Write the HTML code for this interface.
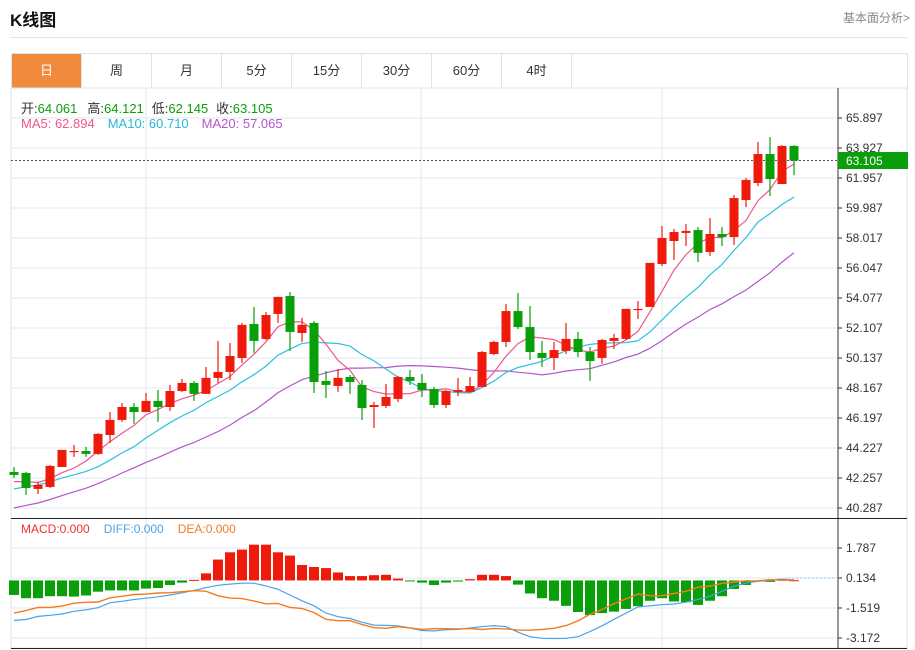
<!DOCTYPE html>
<html><head><meta charset="utf-8">
<style>
body{margin:0;background:#fff;font-family:"Liberation Sans","Noto Sans CJK SC",sans-serif;}
#wrap{position:relative;width:915px;height:650px;overflow:hidden;}
.t{position:absolute;white-space:nowrap;}
.tab{position:absolute;top:54px;height:34px;width:69px;line-height:34px;text-align:center;font-size:13px;color:#333;border-right:1px solid #e3e3e3;}
</style></head><body>
<div id="wrap">
<div class="t" style="left:10px;top:6px;font-size:17px;font-weight:bold;color:#111">K线图</div>
<div class="t" style="left:843px;top:9px;font-size:12px;color:#888">基本面分析&gt;</div>
<div style="position:absolute;left:10px;top:37px;width:897px;height:1px;background:#e5e5e5"></div>
<div style="position:absolute;left:11px;top:53px;width:895px;height:35px;border:1px solid #e3e3e3;border-bottom:none"></div>
<div class="tab" style="left:12px;background:#f08a3c;color:#fff">日</div>
<div class="tab" style="left:82px">周</div>
<div class="tab" style="left:152px">月</div>
<div class="tab" style="left:222px">5分</div>
<div class="tab" style="left:292px">15分</div>
<div class="tab" style="left:362px">30分</div>
<div class="tab" style="left:432px">60分</div>
<div class="tab" style="left:502px">4时</div>
<svg id="chart" width="915" height="650" style="position:absolute;left:0;top:0"></svg>
</div>
<script>
const opens=[42.65,42.59,41.54,41.67,42.98,43.97,44.03,43.84,45.08,46.07,46.92,46.59,47.32,46.92,47.97,48.50,47.78,48.83,49.22,50.14,52.37,51.39,53.03,54.21,51.78,52.44,48.63,48.30,48.89,48.37,46.92,46.99,47.45,48.89,48.50,48.10,47.05,47.91,47.91,48.24,50.40,51.19,53.22,52.17,50.47,50.14,50.60,51.39,50.53,50.14,51.26,51.39,53.29,53.49,56.31,57.82,58.35,58.54,57.10,58.28,58.08,60.51,61.63,63.53,61.56,64.061];
const closes=[42.46,41.60,41.80,43.05,44.10,44.03,43.84,45.15,46.07,46.92,46.59,47.32,46.92,47.97,48.50,47.78,48.83,49.22,50.27,52.31,51.26,52.96,54.15,51.85,52.31,48.56,48.37,48.83,48.56,46.85,47.05,47.58,48.89,48.63,48.04,47.05,47.97,48.04,48.30,50.53,51.19,53.22,52.17,50.53,50.14,50.66,51.39,50.53,49.94,51.32,51.45,53.36,53.36,56.38,58.02,58.41,58.48,57.04,58.28,58.08,60.64,61.83,63.53,61.89,64.06,63.105];
const highs=[42.98,42.65,42.00,43.11,44.10,44.43,44.30,45.21,46.59,47.18,47.18,47.84,48.04,48.37,48.76,48.63,49.55,51.26,51.12,52.44,53.49,53.16,54.15,54.47,52.77,52.57,49.29,49.42,49.02,48.69,47.25,48.43,48.96,49.35,49.09,48.24,48.04,48.83,48.89,50.60,51.26,53.68,54.41,53.55,51.26,51.19,52.44,51.85,50.86,51.39,51.72,53.36,53.88,56.38,58.81,58.61,58.94,58.74,59.33,58.74,60.84,61.96,64.32,64.65,64.12,64.121];
const lows=[42.26,41.14,41.21,41.60,42.98,43.64,43.64,43.77,44.56,45.94,45.81,46.59,45.94,46.66,47.91,47.32,47.78,48.50,48.69,49.81,50.47,51.32,52.44,50.60,51.19,47.84,47.51,47.91,47.78,46.07,45.54,46.85,47.25,48.37,47.58,46.85,46.85,47.64,47.91,48.24,50.33,50.86,52.04,50.01,49.55,49.35,50.40,50.20,48.63,49.75,50.73,51.32,52.70,53.49,56.18,56.57,57.49,56.44,56.84,57.49,57.56,60.05,61.43,60.77,61.56,62.145];
const priorCloses=[38.3,38.6,38.5,38.9,39.0,39.2,39.1,39.4,39.6,39.8,40.2,40.6,41.0,41.5,42.0,41.6,42.1,41.8,42.14];
const priceTicks=[65.897,63.927,61.957,59.987,58.017,56.047,54.077,52.107,50.137,48.167,46.197,44.227,42.257,40.287];
const macdHist=[-0.80,-0.98,-0.98,-0.87,-0.87,-0.89,-0.83,-0.62,-0.55,-0.55,-0.55,-0.45,-0.42,-0.25,-0.12,0.03,0.39,1.15,1.55,1.70,1.97,1.97,1.55,1.37,0.85,0.74,0.68,0.44,0.24,0.24,0.29,0.31,0.10,-0.01,-0.12,-0.25,-0.12,-0.06,0.07,0.31,0.31,0.24,-0.23,-0.72,-0.98,-1.12,-1.40,-1.74,-1.91,-1.80,-1.72,-1.57,-1.42,-1.12,-0.98,-1.16,-1.20,-1.35,-1.12,-0.87,-0.47,-0.25,-0.06,-0.08,0.09,0.01];
const diffVals=[-2.20,-2.15,-1.98,-1.92,-1.85,-1.70,-1.62,-1.50,-1.23,-1.15,-1.05,-0.98,-0.90,-0.80,-0.68,-0.55,-0.40,-0.27,-0.20,-0.15,-0.15,-0.30,-0.49,-0.80,-1.12,-1.40,-1.80,-2.00,-2.10,-2.30,-2.46,-2.48,-2.50,-2.62,-2.76,-2.78,-2.72,-2.70,-2.62,-2.55,-2.49,-2.55,-2.85,-3.10,-3.19,-3.20,-3.19,-3.10,-2.82,-2.50,-2.14,-1.80,-1.46,-1.40,-1.33,-1.30,-1.20,-1.05,-0.87,-0.60,-0.32,-0.15,-0.05,0.00,0.05,0.03];
const macdTicks=[1.787,0.134,-1.519,-3.172];

const NS='http://www.w3.org/2000/svg';
const svg=document.getElementById('chart');
function mk(tag,attrs,parent){const e=document.createElementNS(NS,tag);for(const k in attrs)e.setAttribute(k,attrs[k]);(parent||svg).appendChild(e);return e;}
const xOf=i=>14+12*i;
const yP=p=>118+(priceTicks[0]-p)*(390/(priceTicks[0]-priceTicks[priceTicks.length-1]));
const yM=v=>548+(macdTicks[0]-v)*(90/(macdTicks[0]-macdTicks[3]));
const RED='#f01a0a',GREEN='#08a008';

mk('rect',{x:11,y:88,width:896,height:560,fill:'none',stroke:'#e3e3e3'});
priceTicks.forEach(p=>{const g=mk('line',{x1:11,x2:838,y1:yP(p),y2:yP(p),stroke:'#e1eaf0'});
});
macdTicks.forEach(v=>{mk('line',{x1:11,x2:838,y1:yM(v),y2:yM(v),stroke:'#e1eaf0'});});
[146,421,662].forEach(x=>{mk('line',{x1:x,x2:x,y1:88,y2:518,stroke:'#e1eaf0'});mk('line',{x1:x,x2:x,y1:519,y2:648,stroke:'#e1eaf0'});});
mk('line',{x1:838,x2:838,y1:88,y2:648,stroke:'#333'});
mk('line',{x1:11,x2:907,y1:518.5,y2:518.5,stroke:'#222'});
mk('line',{x1:11,x2:907,y1:648.5,y2:648.5,stroke:'#222'});
priceTicks.forEach(p=>{mk('line',{x1:838,x2:842,y1:yP(p),y2:yP(p),stroke:'#333'});
const t=mk('text',{x:846,y:yP(p)+4,'font-size':12,fill:'#333'});t.textContent=p.toFixed(3);
});
macdTicks.forEach(v=>{mk('line',{x1:838,x2:842,y1:yM(v),y2:yM(v),stroke:'#333'});
const t=mk('text',{x:846,y:yM(v)+4,'font-size':12,fill:'#333'});t.textContent=v.toFixed(3);
});

const all=priorCloses.concat(closes);
function ma(n){return closes.map((c,i)=>{let s=0;for(let k=0;k<n;k++)s+=all[i+priorCloses.length-k];return s/n;});}
const maDefs=[[20,'#b556c8'],[10,'#2cc0dd'],[5,'#f0578a']];
maDefs.forEach(([n,col])=>{const v=ma(n);const pl=mk('polyline',{points:v.map((p,i)=>xOf(i)+','+yP(p).toFixed(1)).join(' '),fill:'none',stroke:col,'stroke-width':1.2});
});

closes.forEach((c,i)=>{const o=opens[i];const up=c>=o;const col=up?RED:GREEN;const x=xOf(i);
const g=mk('g',{});
mk('line',{x1:x,x2:x,y1:yP(highs[i]),y2:yP(lows[i]),stroke:col,'stroke-width':1.2},g);
const top=yP(Math.max(o,c)),bot=yP(Math.min(o,c));
mk('rect',{x:x-4.5,y:top,width:9,height:Math.max(1.2,bot-top),fill:col},g);});

const last=closes[closes.length-1];
const cl=mk('line',{x1:11,x2:838,y1:yP(last),y2:yP(last),stroke:'#555','stroke-dasharray':'2,2'});

mk('rect',{x:838,y:yP(last)-8.5,width:70,height:17,fill:'#0a9e0a'});
const lt=mk('text',{x:846,y:yP(last)+4.5,'font-size':12,fill:'#fff'});lt.textContent=last.toFixed(3);


const y0=yM(0);
mk('line',{x1:788,x2:838,y1:yM(0.134),y2:yM(0.134),stroke:'#8cc7ea','stroke-dasharray':'2,2'});
macdHist.forEach((v,i)=>{const yv=yM(v);const r=mk('rect',{x:xOf(i)-5,y:Math.min(yv,y0),width:10,height:Math.max(1,Math.abs(yv-y0)),fill:v>=0?RED:GREEN});
});
const dea=diffVals.map((d,i)=>d-macdHist[i]/2);
const dl=mk('polyline',{points:diffVals.map((v,i)=>xOf(i)+','+yM(v).toFixed(1)).join(' '),fill:'none',stroke:'#4aa3ea','stroke-width':1.2});

const el=mk('polyline',{points:dea.map((v,i)=>xOf(i)+','+yM(v).toFixed(1)).join(' '),fill:'none',stroke:'#f57a1f','stroke-width':1.4});

</script>
<div class="t" style="left:21px;top:98px;font-size:13px;color:#333">开:<span style="color:#0a9e0a">64.061</span><span style="display:inline-block;width:10px"></span>高:<span style="color:#0a9e0a">64.121</span><span style="display:inline-block;width:8px"></span>低:<span style="color:#0a9e0a">62.145</span><span style="display:inline-block;width:8px"></span>收:<span style="color:#0a9e0a">63.105</span></div>
<div class="t" style="left:21px;top:116px;font-size:13px"><span style="color:#f0578a">MA5: 62.894</span><span style="display:inline-block;width:13px"></span><span style="color:#2cb8d8">MA10: 60.710</span><span style="display:inline-block;width:13px"></span><span style="color:#b556c8">MA20: 57.065</span></div>
<div class="t" style="left:21px;top:522px;font-size:12px"><span style="color:#f03030">MACD:0.000</span><span style="display:inline-block;width:14px"></span><span style="color:#4aa3ea">DIFF:0.000</span><span style="display:inline-block;width:14px"></span><span style="color:#f57a1f">DEA:0.000</span></div>
</body></html>
